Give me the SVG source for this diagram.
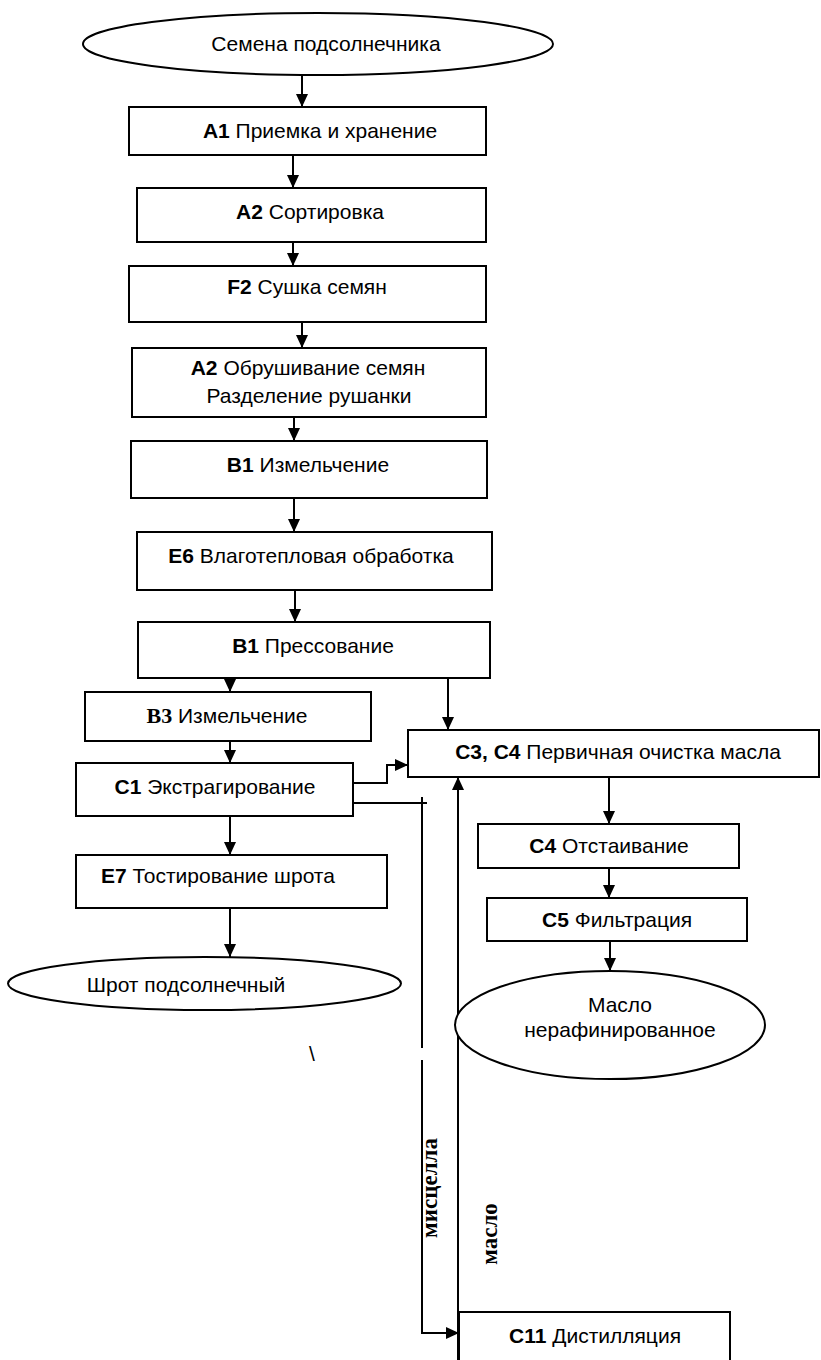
<svg xmlns="http://www.w3.org/2000/svg" width="821" height="1360" viewBox="0 0 821 1360">
  <style>
    .box { fill: #fff; stroke: #000; stroke-width: 2; }
    .con { fill: none; stroke: #000; stroke-width: 2; }
    .t { font-family: "Liberation Sans", Arial, sans-serif; font-size: 21px; fill: #000; text-anchor: middle; }
    .b { font-weight: bold; }
    .serif { font-family: "Liberation Serif", "Times New Roman", serif; font-weight: bold; }
    .lbl { font-family: "Liberation Serif", "Times New Roman", serif; font-weight: bold; font-size: 23px; fill: #000; text-anchor: middle; }
  </style>
  <defs>
    <marker id="arr" viewBox="0 0 10 10" refX="10" refY="5" markerWidth="13" markerHeight="12" markerUnits="userSpaceOnUse" orient="auto" preserveAspectRatio="none">
      <path d="M0,0 L10,5 L0,10 z" fill="#000"/>
    </marker>
  </defs>
  <rect width="821" height="1360" fill="#fff"/>

  <!-- connectors -->
  <g id="connectors">
    <path class="con" d="M302,75 V107" marker-end="url(#arr)"/>
    <path class="con" d="M293,155 V188" marker-end="url(#arr)"/>
    <path class="con" d="M293,242 V266" marker-end="url(#arr)"/>
    <path class="con" d="M302,322 V348" marker-end="url(#arr)"/>
    <path class="con" d="M294,417 V441" marker-end="url(#arr)"/>
    <path class="con" d="M294,498 V532" marker-end="url(#arr)"/>
    <path class="con" d="M295,590 V622" marker-end="url(#arr)"/>
    <path class="con" d="M230,678 V692" marker-end="url(#arr)"/>
    <path class="con" d="M448,678 V730" marker-end="url(#arr)"/>
    <path class="con" d="M230,741 V763" marker-end="url(#arr)"/>
    <path class="con" d="M353,783 H387 V765 H408" marker-end="url(#arr)"/>
    <path class="con" d="M230,816 V855" marker-end="url(#arr)"/>
    <path class="con" d="M230,908 V957" marker-end="url(#arr)"/>
    <path class="con" d="M609,777 V824" marker-end="url(#arr)"/>
    <path class="con" d="M609,868 V898" marker-end="url(#arr)"/>
    <path class="con" d="M610,941 V971" marker-end="url(#arr)"/>
    <!-- miscella line from extraction to distillation -->
    <path class="con" d="M353,803 H427"/>
    <path class="con" d="M422,797 V1048"/>
    <path class="con" d="M422,1060 V1333 H459" marker-end="url(#arr)"/>
    <!-- oil return from distillation -->
    <path class="con" d="M458,1362 V777" marker-end="url(#arr)"/>
    <text class="lbl" transform="translate(437,1188) rotate(-90)">мисцелла</text>
    <text class="lbl" transform="translate(497,1234) rotate(-90)">масло</text>
  </g>

  <g id="seeds">
    <ellipse class="box" cx="318" cy="44" rx="235" ry="31"/>
    <text class="t" x="326" y="51">Семена подсолнечника</text>
  </g>
  <g id="a1">
    <rect class="box" x="129" y="107" width="357" height="48"/>
    <text class="t" x="320" y="138"><tspan class="b">A1</tspan> Приемка и хранение</text>
  </g>
  <g id="a2-sort">
    <rect class="box" x="137" y="188" width="349" height="54"/>
    <text class="t" x="310" y="219"><tspan class="b">A2</tspan> Сортировка</text>
  </g>
  <g id="f2">
    <rect class="box" x="129" y="266" width="357" height="56"/>
    <text class="t" x="307" y="294"><tspan class="b">F2</tspan> Сушка семян</text>
  </g>
  <g id="a2-hull">
    <rect class="box" x="132" y="348" width="354" height="69"/>
    <text class="t" x="308" y="375"><tspan class="b">A2</tspan> Обрушивание семян</text>
    <text class="t" x="309" y="403">Разделение рушанки</text>
  </g>
  <g id="b1-grind">
    <rect class="box" x="131" y="441" width="356" height="57"/>
    <text class="t" x="308" y="472"><tspan class="b">B1</tspan> Измельчение</text>
  </g>
  <g id="e6">
    <rect class="box" x="137" y="532" width="355" height="58"/>
    <text class="t" x="311" y="563"><tspan class="b">E6</tspan> Влаготепловая обработка</text>
  </g>
  <g id="b1-press">
    <rect class="box" x="138" y="622" width="352" height="56"/>
    <text class="t" x="313" y="653"><tspan class="b">B1</tspan> Прессование</text>
  </g>
  <g id="b3">
    <rect class="box" x="85" y="692" width="286" height="49"/>
    <text class="t" x="227" y="723"><tspan class="serif" font-size="22">B3</tspan> Измельчение</text>
  </g>
  <g id="c1">
    <rect class="box" x="76" y="763" width="277" height="53"/>
    <text class="t" x="215" y="794"><tspan class="b">C1</tspan> Экстрагирование</text>
  </g>
  <g id="e7">
    <rect class="box" x="76" y="855" width="311" height="53"/>
    <text class="t" x="218" y="883"><tspan class="b">E7</tspan> Тостирование шрота</text>
  </g>
  <g id="meal">
    <ellipse class="box" cx="204.5" cy="983.5" rx="196.5" ry="26.5"/>
    <text class="t" x="186" y="992">Шрот подсолнечный</text>
  </g>
  <g id="c3c4">
    <rect class="box" x="408" y="730" width="411" height="47"/>
    <text class="t" x="618" y="759"><tspan class="b">C3, C4</tspan> Первичная очистка масла</text>
  </g>
  <g id="c4">
    <rect class="box" x="478" y="824" width="261" height="44"/>
    <text class="t" x="609" y="853"><tspan class="b">C4</tspan> Отстаивание</text>
  </g>
  <g id="c5">
    <rect class="box" x="487" y="898" width="260" height="43"/>
    <text class="t" x="617" y="927"><tspan class="b">C5</tspan> Фильтрация</text>
  </g>
  <g id="oil">
    <ellipse class="box" cx="610" cy="1025" rx="155" ry="54"/>
    <text class="t" x="620" y="1012">Масло</text>
    <text class="t" x="620" y="1037">нерафинированное</text>
  </g>
  <g id="c11">
    <rect class="box" x="459" y="1312" width="271" height="60"/>
    <text class="t" x="595" y="1343"><tspan class="b">C11</tspan> Дистилляция</text>
  </g>
  <text class="t" x="312" y="1061">\</text>
</svg>
